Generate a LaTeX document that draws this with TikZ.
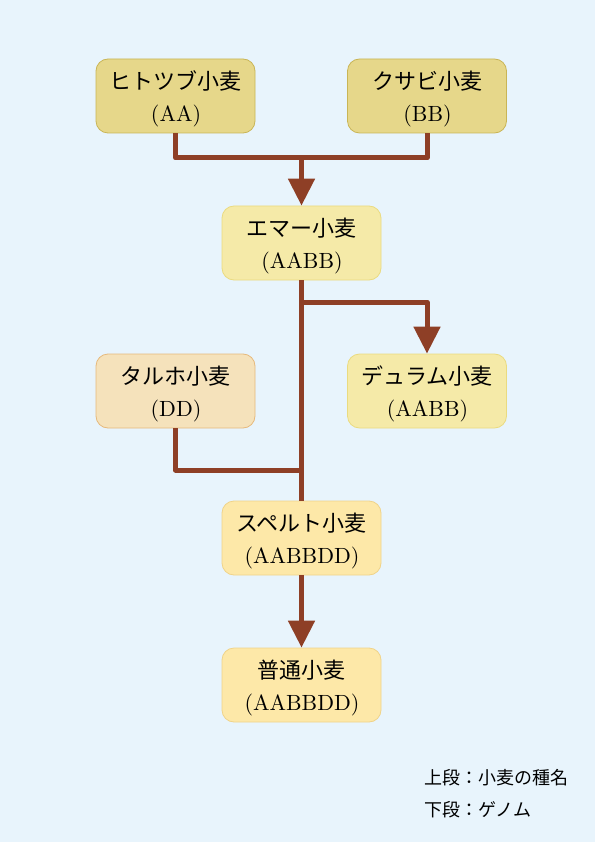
\documentclass[tikz,border=0pt]{standalone}
\usepackage{fontspec}
\usepackage{xcolor}
\usepackage{tikz}
\usetikzlibrary{arrows.meta,positioning,calc}
\setmainfont{lmroman10-regular}[Extension=.otf]
\newfontfamily\jpfont{Noto Sans CJK JP}
\definecolor{skybg}{HTML}{E8F4FC}
\definecolor{rust}{HTML}{8E3F26}
\definecolor{oliveFill}{HTML}{E6D78A}
\definecolor{oliveLine}{HTML}{C9B556}
\definecolor{lemonFill}{HTML}{F5EAA8}
\definecolor{lemonLine}{HTML}{EADB80}
\definecolor{peachFill}{HTML}{F5E2BB}
\definecolor{peachLine}{HTML}{E6B97C}
\definecolor{creamFill}{HTML}{FDE8A8}
\definecolor{creamLine}{HTML}{F0D389}
\newcommand{\wheat}[2]{\rule{0pt}{25pt}{\jpfont #1}\\\kern1pt(#2)}

\begin{document}
\begin{tikzpicture}[
  x=1pt,y=-1pt,
  species/.style={rectangle,rounded corners=12pt,thick,minimum width=159pt,
              minimum height=74pt,align=center,inner sep=2pt,
              font=\fontsize{22}{32}\selectfont},
  wild/.style={species,fill=oliveFill,draw=oliveLine},
  tetra/.style={species,fill=lemonFill,draw=lemonLine},
  tausch/.style={species,fill=peachFill,draw=peachLine},
  hexa/.style={species,fill=creamFill,draw=creamLine},
  link/.style={line width=5pt,draw=rust,line join=round},
  arrow/.style={link,-{Triangle[length=27pt,width=26pt]}}
]
\fill[skybg] (0,0) rectangle (595,842);
\useasboundingbox (0,0) rectangle (595,842);

\node[wild] (hito) at (175.5,96) {\wheat{ヒトツブ小麦}{AA}};
\node[wild] (kusa) at (427,96) {\wheat{クサビ小麦}{BB}};
\node[tetra] (emmer) at (301.5,243) {\wheat{エマー小麦}{AABB}};
\node[tausch] (taru) at (175.5,391) {\wheat{タルホ小麦}{DD}};
\node[tetra] (durum) at (427,391) {\wheat{デュラム小麦}{AABB}};
\node[hexa] (spelt) at (301.5,538) {\wheat{スペルト小麦}{AABBDD}};
\node[hexa] (common) at (301.5,685) {\wheat{普通小麦}{AABBDD}};

\coordinate (fork1) at (301.5,158);
\coordinate (fork2) at (301.5,302);
\coordinate (fork3) at (301.5,470);

\draw[link] (hito) |- (fork1) -| (kusa);
\draw[arrow] (fork1) -- (emmer);
\draw[link] (emmer) -- (spelt);
\draw[arrow] (fork2) -| (durum);
\draw[link] (taru) |- (fork3);
\draw[arrow] (spelt) -- (common);

% legend
\node[anchor=west,inner sep=0pt,font=\jpfont\fontsize{18}{20}\selectfont] (key1) at (424,778) {上段：小麦の種名};
\node[anchor=west,inner sep=0pt,font=\jpfont\fontsize{18}{20}\selectfont] (key2) at (424,810) {下段：ゲノム};
\end{tikzpicture}
\end{document}
